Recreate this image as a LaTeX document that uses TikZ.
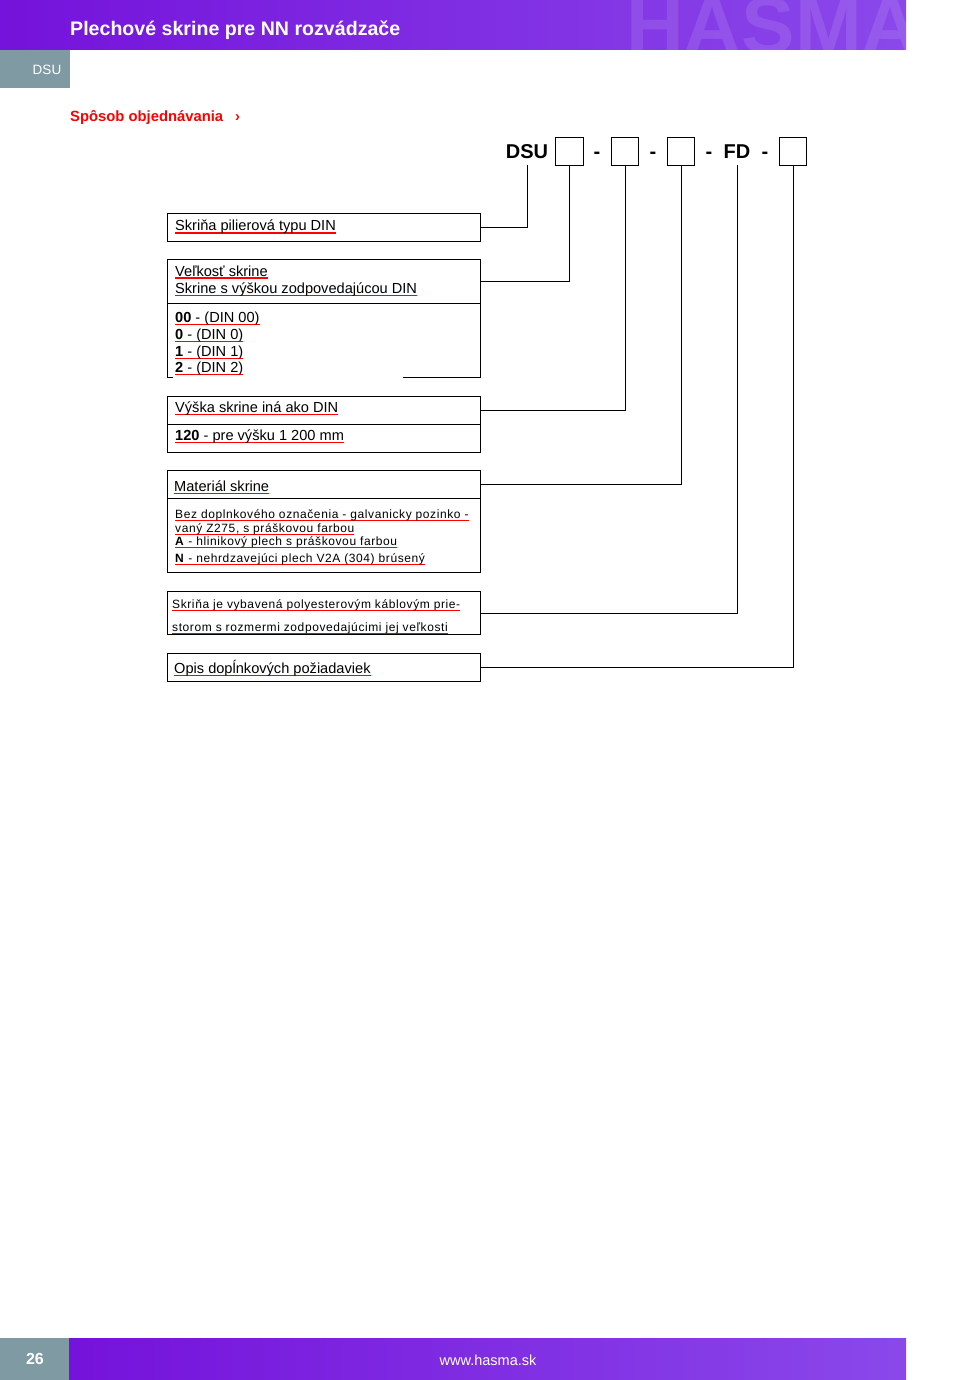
\documentclass[tikz,border=0pt]{standalone}
\usepackage{fontspec}
\setmainfont{Liberation Sans}
\usetikzlibrary{calc}
\definecolor{hpurpleL}{HTML}{7512DB}
\definecolor{hpurpleR}{HTML}{8A48EA}
\definecolor{hgray}{HTML}{7F9AA3}
\newcommand\ru[1]{\setbox0\hbox{#1}\rlap{\color{red}\rule[-2.6pt]{\wd0}{1.1pt}}\box0}
\tikzset{
  lbl/.style={anchor=base west, inner sep=0pt, font=\fontsize{14.6}{17}\selectfont},
  small/.style={anchor=base west, inner sep=0pt, font=\fontsize{12}{14}\selectfont\addfontfeature{LetterSpace=5}},
  frame/.style={draw, line width=0.9pt, inner sep=0pt, anchor=north west, minimum width=313pt},
  cbox/.style={draw, line width=0.9pt, inner sep=0pt, minimum size=27.5pt},
  code/.style={inner sep=0pt, text height=14.5pt, text depth=0pt, minimum height=27.5pt, font=\fontsize{20}{24}\selectfont\bfseries},
  conn/.style={line width=0.9pt},
}
\begin{document}
\begin{tikzpicture}[x=1pt,y=-1pt]
\useasboundingbox (0,0) rectangle (976,1380);
% header
\shade[left color=hpurpleL, right color=hpurpleR] (0,0) rectangle (906,50);
\begin{scope}
\clip (0,0) rectangle (906,50);
\node[anchor=base west, inner sep=0pt, text=white, opacity=0.11, font=\fontsize{80}{80}\selectfont\bfseries] (wm) at (626,54) {HASMA};
\end{scope}
\node[anchor=base west, inner sep=0pt, text=white, font=\fontsize{19.6}{22}\selectfont\bfseries] (title) at (70,36) {Plechové skrine pre NN rozvádzače};
\fill[hgray] (0,50) rectangle (70,88);
\node[anchor=base, inner sep=0pt, text=white, font=\fontsize{13.5}{15}\selectfont] (tab) at (47,75) {DSU};
\node[anchor=base west, inner sep=0pt, text=red, font=\fontsize{14.8}{16}\selectfont\bfseries] (sub) at (70,122) {Spôsob objednávania\hspace{12pt}›};
% code row
\node[code] (dsu) at (527,151.5) {DSU};
\node[cbox] (c1) at (569.5,151.5) {};
\node[code] (d1) at (597,151.5) {-};
\node[cbox] (c2) at (625,151.5) {};
\node[code] (d2) at (653,151.5) {-};
\node[cbox] (c3) at (681,151.5) {};
\node[code] (d3) at (709,151.5) {-};
\node[code] (fd) at (737,151.5) {FD};
\node[code] (d4) at (765,151.5) {-};
\node[cbox] (c4) at (793,151.5) {};
% boxes
\node[frame, minimum height=28pt] (ah) at (167,213) {};
\node[lbl] (ta) at (175,231) {\ru{Skriňa pilierová typu DIN}};
\node[frame, minimum height=44pt] (bh) at (167,259) {};
\node[lbl] (tb1) at (175,276) {\ru{Veľkosť skrine}};
\node[lbl] (tb2) at (175,293) {\ru{Skrine s výškou zodpovedajúcou DIN}};
\node[inner sep=0pt, anchor=north west, minimum width=313pt, minimum height=74pt] (bb) at (167,303) {};
\draw[conn] (bb.north west) -- (bb.south west) -- ++(6,0);
\draw[conn] (bb.north east) -- (bb.south east) -- ++(-77,0);
\node[lbl] (tb3) at (175,322) {\ru{\textbf{00} - (DIN 00)}};
\node[lbl] (tb4) at (175,339) {\ru{\textbf{0} - (DIN 0)}};
\node[lbl] (tb5) at (175,356) {\ru{\textbf{1} - (DIN 1)}};
\node[lbl] (tb6) at (175,372) {\ru{\textbf{2} - (DIN 2)}};
\node[frame, minimum height=28pt] (ch) at (167,396) {};
\node[lbl] (tc1) at (175,412) {\ru{Výška skrine iná ako DIN}};
\node[frame, minimum height=28pt] (cb) at (167,424) {};
\node[lbl] (tc2) at (175,440) {\ru{\textbf{120} - pre výšku 1 200 mm}};
\node[frame, minimum height=28pt] (dh) at (167,470) {};
\node[lbl] (td1) at (174,491) {\ru{Materiál skrine}};
\node[frame, minimum height=74pt] (db) at (167,498) {};
\node[small] (td2) at (175,518) {\ru{Bez doplnkového označenia - galvanicky pozinko -}};
\node[small] (td3) at (175,532) {\ru{vaný Z275, s práškovou farbou}};
\node[small] (td4) at (175,545) {\ru{\textbf{A} - hlinikový plech s práškovou farbou}};
\node[small] (td5) at (175,562) {\ru{\textbf{N} - nehrdzavejúci plech V2A (304) brúsený}};
\node[frame, minimum height=43pt] (e) at (167,591) {};
\node[small] (te1) at (172,608) {\ru{Skriňa je vybavená polyesterovým káblovým prie-}};
\node[small] (te2) at (172,631) {\ru{storom s rozmermi zodpovedajúcimi jej veľkosti}};
\node[frame, minimum height=28pt] (f) at (167,653) {};
\node[lbl] (tf) at (174,673) {\ru{Opis dopĺnkových požiadaviek}};
% connectors
\draw[conn] (dsu.south) |- (ah.east);
\draw[conn] (c1.south) |- (bh.east);
\draw[conn] (c2.south) |- (ch.east);
\draw[conn] (c3.south) |- (dh.east);
\draw[conn] (fd.south) |- (e.east);
\draw[conn] (c4.south) |- (f.east);
% footer
\fill[hgray] (0,1338) rectangle (69,1380);
\shade[left color=hpurpleL, right color=hpurpleR] (69,1338) rectangle (906,1380);
\node[inner sep=0pt, text=white, font=\fontsize{16}{18}\selectfont\bfseries] (pg) at (35,1359) {26};
\node[inner sep=0pt, text=white, font=\fontsize{14.5}{16}\selectfont] (web) at (488,1360) {www.hasma.sk};
\end{tikzpicture}
\end{document}
